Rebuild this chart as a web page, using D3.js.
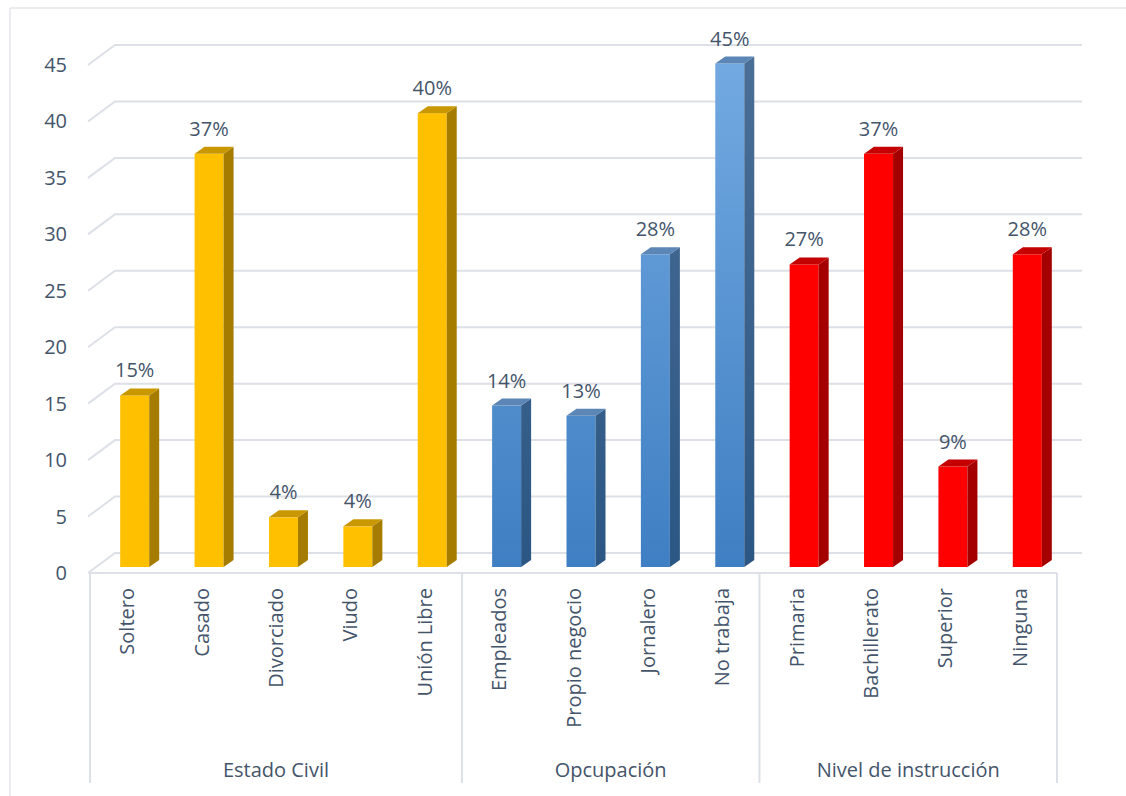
<!DOCTYPE html>
<html><head><meta charset="utf-8">
<script src="https://cdn.jsdelivr.net/npm/d3@7"></script>
<style>
html,body{margin:0;padding:0;background:#fff;}
svg{display:block;font-family:"Open Sans",sans-serif;}
</style></head>
<body><svg id="chart" width="1126" height="796"></svg>
<script>
const categories = ["Soltero","Casado","Divorciado","Viudo","Unión Libre","Empleados","Propio negocio","Jornalero","No trabaja","Primaria","Bachillerato","Superior","Ninguna"];
const groupOf = ["Estado Civil","Estado Civil","Estado Civil","Estado Civil","Estado Civil","Opcupación","Opcupación","Opcupación","Opcupación","Nivel de instrucción","Nivel de instrucción","Nivel de instrucción","Nivel de instrucción"];
const groups = ["Estado Civil","Opcupación","Nivel de instrucción"];
const values = [15.2,36.6,4.4,3.6,40.2,14.3,13.4,27.7,44.6,26.8,36.6,8.9,27.7];
const valueLabels = ["15%","37%","4%","4%","40%","14%","13%","28%","45%","27%","37%","9%","28%"];
const yTicks = [0,5,10,15,20,25,30,35,40,45];

const svg = d3.select("#chart");
const textColor = "#44546A";
const gridColor = "#DDE0E6";

// outer frame
svg.append("line").attr("x1",10).attr("y1",8).attr("x2",1126).attr("y2",8).attr("stroke","#E3E6EB").attr("stroke-width",1.5);
svg.append("line").attr("x1",10).attr("y1",8).attr("x2",10).attr("y2",796).attr("stroke","#E3E6EB").attr("stroke-width",1.5);

const x = d3.scaleBand().domain(categories).range([90,1057]).padding(0);
const y = d3.scaleLinear().domain([0,45]).range([573,65]);
const DX = 25, DY = -20;           // depth of the 3D walls
const f = 0.3;                      // bar front depth fraction
const bdx = 10, bdy = -7;           // bar depth
const bw = x.bandwidth()*0.39;

const defs = svg.append("defs");
const gBlue = defs.append("linearGradient").attr("id","gBlue").attr("gradientUnits","userSpaceOnUse")
  .attr("x1",0).attr("y1",y(45)).attr("x2",0).attr("y2",y(0));
gBlue.append("stop").attr("offset","0%").attr("stop-color","#72A9E1");
gBlue.append("stop").attr("offset","100%").attr("stop-color","#3E7EC2");
const gBlueS = defs.append("linearGradient").attr("id","gBlueS").attr("gradientUnits","userSpaceOnUse")
  .attr("x1",0).attr("y1",y(45)).attr("x2",0).attr("y2",y(0));
gBlueS.append("stop").attr("offset","0%").attr("stop-color","#4A6E96");
gBlueS.append("stop").attr("offset","100%").attr("stop-color","#2B5683");

const palette = {
  "Estado Civil": {front:"#FFC000", side:"#A67C00", top:"#C99800"},
  "Opcupación": {front:"url(#gBlue)", side:"url(#gBlueS)", top:"#5B86B6"},
  "Nivel de instrucción": {front:"#FF0000", side:"#A50000", top:"#C40000"}
};

// gridlines: back wall + left wall diagonal
const xL = x.range()[0], xR = x.range()[1];
const grid = svg.append("g");
yTicks.forEach(t => {
  const yf = y(t);
  grid.append("polyline")
    .attr("points", `${xL-2},${yf} ${xL+DX},${yf+DY} ${xR+DX},${yf+DY}`)
    .attr("fill","none").attr("stroke",gridColor).attr("stroke-width",2);
});
// floor front edge
grid.append("line")
  .attr("x1",xL).attr("y1",y(0)).attr("x2",xR).attr("y2",y(0))
  .attr("stroke",gridColor).attr("stroke-width",2);

// y axis labels
svg.append("g").selectAll("text").data(yTicks).join("text")
  .attr("x",67).attr("y",d=>y(d)).attr("dy","0.35em")
  .attr("text-anchor","end").attr("fill",textColor).attr("font-size",20)
  .text(d=>d);

// category axis separators
const sepX = [0,5,9].map(i=>x(categories[i])).concat([xR]);
svg.append("g").selectAll("line").data(sepX).join("line")
  .attr("x1",d=>d).attr("x2",d=>d).attr("y1",y(0)).attr("y2",783)
  .attr("stroke",gridColor).attr("stroke-width",2);

// bars
const bars = svg.append("g");
categories.forEach((c,i) => {
  const col = palette[groupOf[i]];
  const x0 = x(c) + x.bandwidth()/2 - bw/2 + f*DX;
  const x1 = x0 + bw;
  const yb = y(0) + f*DY;
  const yt = y(values[i]) + f*DY;
  bars.append("rect").attr("x",x0).attr("y",yt).attr("width",bw).attr("height",yb-yt).attr("fill",col.front);
  bars.append("polygon").attr("points",`${x1},${yt} ${x1+bdx},${yt+bdy} ${x1+bdx},${yb+bdy} ${x1},${yb}`).attr("fill",col.side);
  bars.append("polygon").attr("points",`${x0},${yt} ${x0+bdx},${yt+bdy} ${x1+bdx},${yt+bdy} ${x1},${yt}`).attr("fill",col.top);
  bars.append("text").attr("x",x0+bw/2).attr("y",yt-18)
    .attr("text-anchor","middle").attr("fill",textColor).attr("font-size",20)
    .text(valueLabels[i]);
});

// category labels (rotated)
svg.append("g").selectAll("text").data(categories).join("text")
  .attr("transform",d=>`translate(${x(d)+x.bandwidth()/2+7},588) rotate(-90)`)
  .attr("text-anchor","end").attr("fill",textColor).attr("font-size",20)
  .text(d=>d);

// group labels
svg.append("g").selectAll("text").data(groups).join("text")
  .attr("x",(d,i)=>(sepX[i]+sepX[i+1])/2).attr("y",777)
  .attr("text-anchor","middle").attr("fill",textColor).attr("font-size",20)
  .text(d=>d);
</script></body></html>
